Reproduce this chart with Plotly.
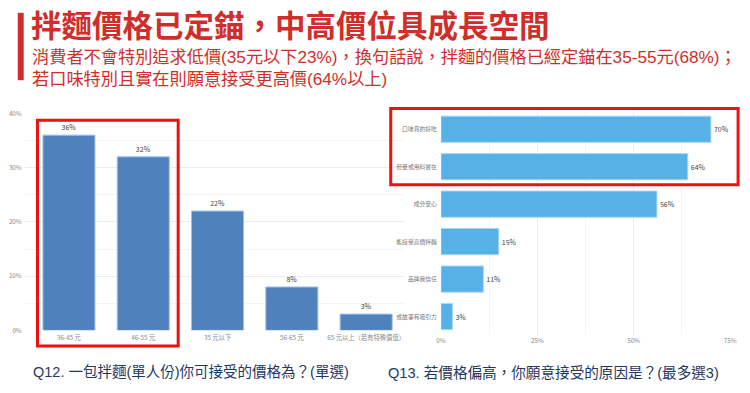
import plotly.graph_objects as go

W, H = 750, 393

price_cats = ["36-45 元", "46-55 元", "35 元以下", "56-65 元", "65 元以上（若有特殊價值）"]
price_vals = [36, 32, 22, 8, 3]

reason_cats = ["口味真的好吃", "份量或用料實在", "成分安心", "能接受高價拌麵", "品牌我信任", "或故事有吸引力"]
reason_vals = [70, 64, 56, 15, 11, 3]

title = "拌麵價格已定錨，中高價位具成長空間"
subtitle1 = "消費者不會特別追求低價(35元以下23%)，換句話說，拌麵的價格已經定錨在35-55元(68%)；"
subtitle2 = "若口味特別且實在則願意接受更高價(64%以上)"
caption1 = "Q12. 一包拌麵(單人份)你可接受的價格為？(單選)"
caption2 = "Q13. 若價格偏高，你願意接受的原因是？(最多選3)"

FONT = "Noto Sans CJK TC"
MIX = "Liberation Sans, Noto Sans CJK TC"
RED = "#cf2e2a"


def px(x):
    return x / W


def py(y):
    return 1 - y / H


fig = go.Figure()

fig.add_trace(go.Bar(
    x=price_cats, y=price_vals,
    marker=dict(color="#4f81bd", line=dict(color="#9fbfe6", width=1)),
    text=[f"{v}%" for v in price_vals], textposition="outside",
    textfont=dict(size=7, color="#444444"), cliponaxis=False,
    xaxis="x", yaxis="y", showlegend=False,
))

fig.add_trace(go.Bar(
    y=reason_cats, x=reason_vals, orientation="h",
    marker=dict(color="#56b1e6", line=dict(color="#a8d8f5", width=1)),
    text=[f"{v}%" for v in reason_vals], textposition="outside",
    textfont=dict(size=7, color="#444444"), cliponaxis=False,
    xaxis="x2", yaxis="y2", showlegend=False,
))

tickfont = dict(size=6.3, color="#888888", family=FONT)
ytickfont2 = dict(size=5.8, color="#777777", family=FONT)

fig.update_layout(
    width=W, height=H,
    margin=dict(l=0, r=0, t=0, b=0),
    paper_bgcolor="white", plot_bgcolor="white",
    bargap=0.3,
    font=dict(family=FONT),
    xaxis=dict(domain=[px(20), px(405)], range=[-0.596, 4.503],
               showgrid=False, showline=False, zeroline=False,
               tickfont=tickfont, ticks="", ticklabelstandoff=2),
    yaxis=dict(domain=[py(333), py(111)], range=[0, 40],
               tickvals=[0, 10, 20, 30, 40], ticktext=["0%", "10%", "20%", "30%", "40%"],
               showgrid=True, gridcolor="#ececec", gridwidth=1,
               minor=dict(dtick=5, showgrid=True, gridcolor="#f4f4f4"),
               zeroline=False, showline=False, tickfont=tickfont, ticks="",
               ticklabelstandoff=2),
    xaxis2=dict(domain=[px(443), px(737)], range=[0, 75], anchor="y2",
                tickvals=[0, 25, 50, 75], ticktext=["0%", "25%", "50%", "75%"],
                showgrid=True, gridcolor="#ececec",
                minor=dict(dtick=12.5, showgrid=True, gridcolor="#f4f4f4"),
                zeroline=False, showline=False, tickfont=tickfont, ticks=""),
    yaxis2=dict(domain=[py(338), py(108)], anchor="x2",
                categoryorder="array", categoryarray=reason_cats[::-1],
                showgrid=False, zeroline=False, showline=False,
                tickfont=ytickfont2, ticks="", ticklabelstandoff=3),
)

shapes = [
    dict(type="rect", xref="paper", yref="paper", x0=px(13), x1=px(19), y0=py(77), y1=py(8),
         fillcolor=RED, line=dict(width=0)),
    dict(type="rect", xref="paper", yref="paper", x0=px(33), x1=px(176), y0=py(349), y1=py(118),
         fillcolor="rgba(0,0,0,0)", line=dict(color="#ee1111", width=3)),
    dict(type="rect", xref="paper", yref="paper", x0=px(392), x1=px(745), y0=py(184), y1=py(106),
         fillcolor="rgba(0,0,0,0)", line=dict(color="#ee1111", width=3)),
]
fig.update_layout(shapes=shapes)

ann = [
    dict(text=f"<b>{title}</b>", x=px(25), y=py(19.5), font=dict(size=30.5, color=RED, family=FONT)),
    dict(text=subtitle1 + "<br>" + subtitle2, x=px(26), y=py(64.5), align="left",
         font=dict(size=17.2, color=RED, family=MIX)),
    dict(text=caption1, x=px(27), y=py(376), font=dict(size=14.5, color="#1f3764", family=MIX)),
    dict(text=caption2, x=px(388), y=py(376), font=dict(size=14.6, color="#1f3764", family=MIX)),
]
for a in ann:
    a.update(xref="paper", yref="paper", xanchor="left", yanchor="middle", showarrow=False,
             borderpad=0)
fig.update_layout(annotations=ann)

fig.write_html("out.html")
